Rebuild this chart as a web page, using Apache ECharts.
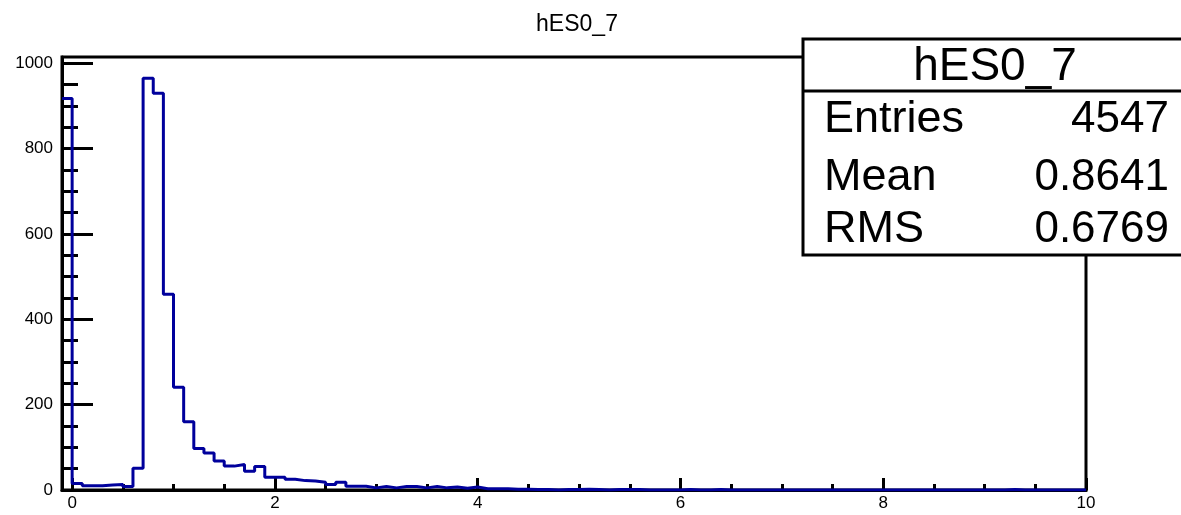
<!DOCTYPE html>
<html>
<head>
<meta charset="utf-8">
<script src="https://cdn.jsdelivr.net/npm/echarts@6/dist/echarts.min.js"></script>
<style>
  html, body { margin: 0; padding: 0; background: #fff; }
  #chart { width: 1181px; height: 515px; }
</style>
</head>
<body>
<div id="chart"></div>
<script>
// histogram hES0_7: 101 bins of width 0.1 starting at -0.1
const binLow = -0.1
const binWidth = 0.1
const counts = [
  918, 15, 10, 10, 12, 13, 8, 51, 965, 930,
  459, 241, 160, 97, 87, 68, 56, 60, 44, 55,
  30, 30, 25, 22, 21, 18, 13, 18, 9, 9,
  5, 8, 5, 8, 8, 5, 8, 5, 7, 4,
  7, 3, 3, 3, 2, 2, 1, 1, 0, 1,
  1, 2, 1, 0, 1, 1, 1, 0, 0, 0,
  0, 1, 0, 0, 1, 0, 0, 0, 0, 0,
  0, 0, 0, 0, 0, 0, 0, 0, 0, 0,
  0, 0, 0, 0, 0, 0, 0, 0, 0, 0,
  0, 0, 0, 1, 0, 0, 0, 0, 0, 0,
  0
]
const xMajorTicks = [0, 2, 4, 6, 8, 10]
const xMinorTicks = [0.5, 1, 1.5, 2.5, 3, 3.5, 4.5, 5, 5.5, 6.5, 7, 7.5, 8.5, 9, 9.5]
const yMajorTicks = [0, 200, 400, 600, 800, 1000]
const yMinorTicks = [50, 100, 150, 250, 300, 350, 450, 500, 550, 650, 700, 750, 850, 900, 950]

const histTitle = 'hES0_7'
const statNames = ['Entries', 'Mean', 'RMS']
const statValues = ['4547', '0.8641', '0.6769']

const xMax = binLow + counts.length * binWidth
// step points at each bin's low edge, plus the closing edge
const stepData = counts.map((c, i) => [+(binLow + i * binWidth).toFixed(2), c])
stepData.push([+xMax.toFixed(2), 0])

const font = '"Liberation Sans", Arial, Helvetica, sans-serif'
const chart = echarts.init(document.getElementById('chart'))

// stats box (ROOT style), drawn over the frame's top-right corner
const statGraphics = [
  {
    type: 'rect',
    shape: { x: 803, y: 39, width: 400, height: 216 },
    style: { fill: '#fff', stroke: '#000', lineWidth: 3 },
    z: 100
  },
  {
    type: 'line',
    shape: { x1: 803, y1: 91, x2: 1181, y2: 91 },
    style: { stroke: '#000', lineWidth: 3 },
    z: 101
  },
  {
    type: 'text',
    x: 995, y: 67,
    style: { text: histTitle, font: '46px ' + font, fill: '#000', align: 'center', verticalAlign: 'middle' },
    z: 102
  }
]
const rowY = [119.5, 177.5, 229.5]
statNames.forEach((name, i) => {
  statGraphics.push({
    type: 'text', x: 824, y: rowY[i],
    style: { text: name, font: '45px ' + font, fill: '#000', align: 'left', verticalAlign: 'middle' },
    z: 102
  })
  statGraphics.push({
    type: 'text', x: 1169, y: rowY[i],
    style: { text: statValues[i], font: '44px ' + font, fill: '#000', align: 'right', verticalAlign: 'middle' },
    z: 102
  })
})

const option = {
  backgroundColor: '#fff',
  animation: false,
  title: {
    text: histTitle,
    left: 572,
    top: 8,
    textAlign: 'center',
    textStyle: { fontFamily: font, fontSize: 23, fontWeight: 'normal', color: '#000' }
  },
  grid: {
    left: 62, right: 95, top: 57, bottom: 25,
    show: true,
    borderColor: '#000',
    borderWidth: 3,
    backgroundColor: 'transparent'
  },
  xAxis: [
    {
      type: 'value',
      min: binLow,
      max: +xMax.toFixed(2),
      axisLine: { show: true, onZero: false, lineStyle: { color: '#000', width: 3 } },
      axisTick: { show: true, inside: true, length: 12, customValues: xMajorTicks, lineStyle: { color: '#000', width: 3 } },
      axisLabel: { customValues: xMajorTicks, color: '#000', fontFamily: font, fontSize: 17, margin: 5 },
      splitLine: { show: false }
    },
    {
      type: 'value',
      position: 'bottom',
      min: binLow,
      max: +xMax.toFixed(2),
      axisLine: { show: false, onZero: false },
      axisTick: { show: true, inside: true, length: 6, customValues: xMinorTicks, lineStyle: { color: '#000', width: 3 } },
      axisLabel: { show: false },
      splitLine: { show: false }
    }
  ],
  yAxis: [
    {
      type: 'value',
      min: 0,
      max: 1015,
      axisLine: { show: true, onZero: false, lineStyle: { color: '#000', width: 3 } },
      axisTick: { show: true, inside: true, length: 31, customValues: yMajorTicks, lineStyle: { color: '#000', width: 3 } },
      axisLabel: {
        customValues: yMajorTicks,
        formatter: v => String(v),
        color: '#000', fontFamily: font, fontSize: 17, margin: 9
      },
      splitLine: { show: false }
    },
    {
      type: 'value',
      position: 'left',
      min: 0,
      max: 1015,
      axisLine: { show: false, onZero: false },
      axisTick: { show: true, inside: true, length: 16, customValues: yMinorTicks, lineStyle: { color: '#000', width: 3 } },
      axisLabel: { show: false },
      splitLine: { show: false }
    }
  ],
  series: [
    {
      name: histTitle,
      type: 'line',
      step: 'end',
      data: stepData,
      symbol: 'none',
      clip: true,
      lineStyle: { color: '#00009c', width: 3 },
      z: 5
    }
  ],
  graphic: statGraphics
}

chart.setOption(option)
</script>
</body>
</html>
